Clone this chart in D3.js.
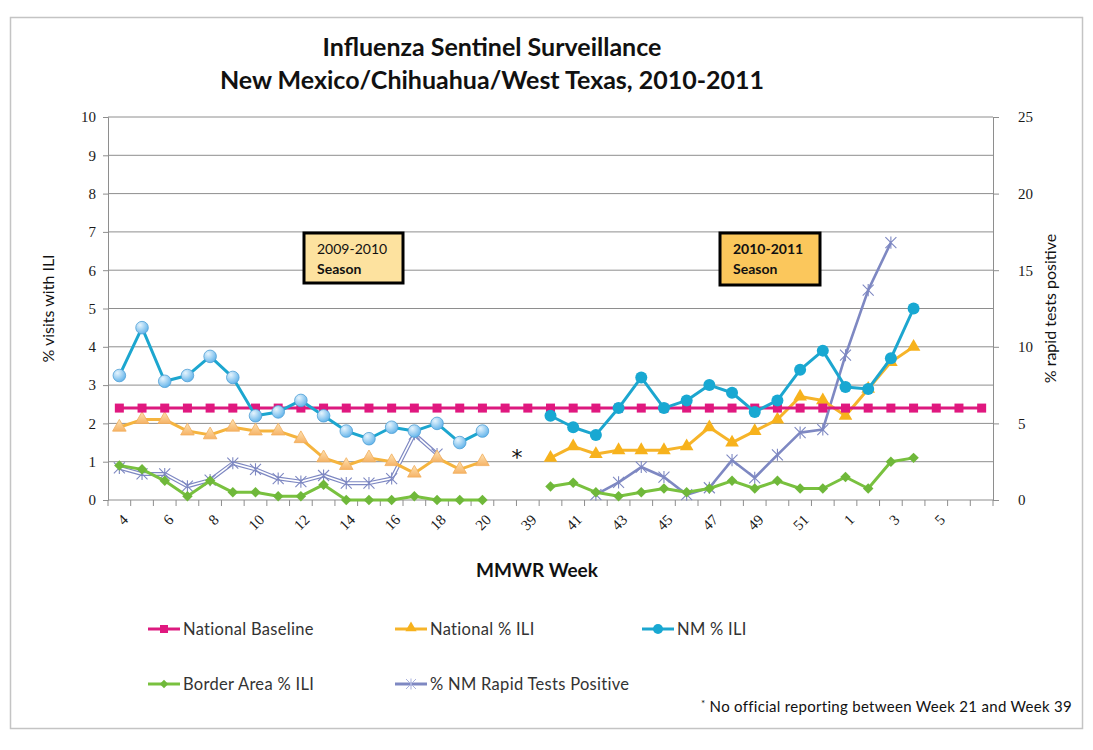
<!DOCTYPE html>
<html>
<head>
<meta charset="utf-8">
<script src="https://cdn.jsdelivr.net/npm/d3@7"></script>
<style>
  body { margin: 0; background: #fff; }
  svg { display: block; }
</style>
</head>
<body>
<div id="chart"></div>
<script>
// category labels, one per plotted week slot (every other one is shown)
const weeks = ["4","5","6","7","8","9","10","11","12","13","14","15","16","17","18","19","20",
  "21","39",
  "40","41","42","43","44","45","46","47","48","49","50","51","52",
  "1","2","3","4","5","6",""];

// first slot that belongs to the 2010-2011 season
const season2Start = 18;

const nationalBaseline = [2.4,2.4,2.4,2.4,2.4,2.4,2.4,2.4,2.4,2.4,2.4,2.4,2.4,2.4,2.4,2.4,2.4,
  2.4,2.4,
  2.4,2.4,2.4,2.4,2.4,2.4,2.4,2.4,2.4,2.4,2.4,2.4,2.4,
  2.4,2.4,2.4,2.4,2.4,2.4,2.4];

const nationalIli = [1.9,2.1,2.1,1.8,1.7,1.9,1.8,1.8,1.6,1.1,0.9,1.1,1.0,0.7,1.1,0.8,1.0,
  null,null,
  1.1,1.4,1.2,1.3,1.3,1.3,1.4,1.9,1.5,1.8,2.1,2.7,2.6,
  2.2,2.9,3.6,4.0,null,null,null];

const nmIli = [3.25,4.5,3.1,3.25,3.75,3.2,2.2,2.3,2.6,2.2,1.8,1.6,1.9,1.8,2.0,1.5,1.8,
  null,null,
  2.2,1.9,1.7,2.4,3.2,2.4,2.6,3.0,2.8,2.3,2.6,3.4,3.9,
  2.95,2.9,3.7,5.0,null,null,null];

const borderIli = [0.9,0.8,0.5,0.1,0.5,0.2,0.2,0.1,0.1,0.4,0,0,0,0.1,0,0,0,
  null,null,
  0.35,0.45,0.2,0.1,0.2,0.3,0.2,0.3,0.5,0.3,0.5,0.3,0.3,
  0.6,0.3,1.0,1.1,null,null,null];

// right axis (% rapid tests positive)
const rapidPositive = [2.1,1.7,1.7,0.9,1.3,2.4,2.0,1.4,1.2,1.6,1.1,1.1,1.4,4.3,3.0,null,null,
  null,null,
  null,null,0.35,1.15,2.15,1.5,0.35,0.8,2.6,1.45,2.95,4.4,4.6,
  9.45,13.7,16.8,null,null,null,null];

const leftTicks = [0,1,2,3,4,5,6,7,8,9,10];
const rightTicks = [0,5,10,15,20,25];

const W = 1093, H = 750;
const plot = { left: 108, right: 993, top: 117, bottom: 500 };

const svg = d3.select("#chart").append("svg")
  .attr("width", W)
  .attr("height", H)
  .style("font-family", "Lato, 'Open Sans', sans-serif");

// gradients for the older season's markers
const defs = svg.append("defs");
const gBlue = defs.append("radialGradient").attr("id", "gBlue").attr("cx", "35%").attr("cy", "30%").attr("r", "75%");
gBlue.append("stop").attr("offset", "0%").attr("stop-color", "#e6f4fd");
gBlue.append("stop").attr("offset", "100%").attr("stop-color", "#5fb2ea");
const gOrange = defs.append("linearGradient").attr("id", "gOrange").attr("x1", 0).attr("y1", 0).attr("x2", 0).attr("y2", 1);
gOrange.append("stop").attr("offset", "0%").attr("stop-color", "#fde2b4");
gOrange.append("stop").attr("offset", "100%").attr("stop-color", "#f6b366");

// outer frame
svg.append("rect")
  .attr("x", 10.5).attr("y", 17.5)
  .attr("width", 1072).attr("height", 711)
  .attr("fill", "none")
  .attr("stroke", "#c4c4c4")
  .attr("stroke-width", 1.5);

const x = d3.scaleBand()
  .domain(d3.range(weeks.length))
  .range([plot.left, plot.right])
  .padding(0);
const cx = i => x(i) + x.bandwidth() / 2;

const y = d3.scaleLinear().domain([0, 10]).range([plot.bottom, plot.top]);
const y2 = d3.scaleLinear().domain([0, 25]).range([plot.bottom, plot.top]);

const tickFont = "'Liberation Serif', 'DejaVu Serif', serif";

// gridlines
svg.append("g")
  .selectAll("line")
  .data(leftTicks.filter(d => d > 0))
  .join("line")
  .attr("x1", plot.left).attr("x2", plot.right)
  .attr("y1", d => y(d)).attr("y2", d => y(d))
  .attr("stroke", "#8e8e8e")
  .attr("stroke-width", 1);

// left axis
const yAxis = d3.axisLeft(y).tickValues(leftTicks).tickSize(5).tickPadding(7);
const gy = svg.append("g").attr("transform", `translate(${plot.left},0)`).call(yAxis);
gy.select(".domain").attr("stroke", "#8e8e8e");
gy.selectAll(".tick line").attr("stroke", "#8e8e8e");
gy.selectAll("text")
  .style("font-family", tickFont)
  .style("font-size", "15px")
  .attr("fill", "#1a1a1a");

// right axis
const yAxis2 = d3.axisRight(y2).tickValues(rightTicks).tickSize(6).tickPadding(19);
const gy2 = svg.append("g").attr("transform", `translate(${plot.right},0)`).call(yAxis2);
gy2.select(".domain").attr("stroke", "#8e8e8e");
gy2.selectAll(".tick line").attr("stroke", "#8e8e8e");
gy2.selectAll("text")
  .style("font-family", tickFont)
  .style("font-size", "15px")
  .attr("fill", "#1a1a1a");

// bottom axis: ticks sit on category boundaries, labels on every other category
const gx = svg.append("g").attr("transform", `translate(0,${plot.bottom})`);
gx.append("line")
  .attr("x1", plot.left).attr("x2", plot.right)
  .attr("stroke", "#8e8e8e");
gx.selectAll(".tk")
  .data(d3.range(weeks.length + 1))
  .join("line")
  .attr("class", "tk")
  .attr("x1", i => plot.left + i * x.bandwidth())
  .attr("x2", i => plot.left + i * x.bandwidth())
  .attr("y1", 0).attr("y2", 6)
  .attr("stroke", "#8e8e8e");
gx.selectAll(".lbl")
  .data(d3.range(weeks.length).filter(i => i % 2 === 0))
  .join("text")
  .attr("class", "lbl")
  .attr("transform", i => `translate(${cx(i) + 6},${17}) rotate(-45)`)
  .attr("text-anchor", "end")
  .attr("dy", "0.35em")
  .style("font-family", tickFont)
  .style("font-size", "15px")
  .attr("fill", "#1a1a1a")
  .text(i => weeks[i]);

// series helpers
const pts = (arr, from, to) => arr.map((v, i) => ({ i, v })).filter(d => d.i >= from && d.i < to);
const lineL = d3.line().defined(d => d.v != null).x(d => cx(d.i)).y(d => y(d.v));
const lineR = d3.line().defined(d => d.v != null).x(d => cx(d.i)).y(d => y2(d.v));

function drawLine(data, gen, color, width) {
  svg.append("path")
    .datum(data)
    .attr("d", gen)
    .attr("fill", "none")
    .attr("stroke", color)
    .attr("stroke-width", width)
    .attr("stroke-linejoin", "round");
}

function asterisk(sel, size, color, sw) {
  const s = size / 2;
  sel.append("path")
    .attr("d", `M${-s},${-s}L${s},${s}M${-s},${s}L${s},${-s}M0,${-s * 1.1}L0,${s * 1.1}`)
    .attr("stroke", color)
    .attr("stroke-width", sw)
    .attr("fill", "none");
}

const n = weeks.length;
const seasons = [[0, season2Start], [season2Start, n]];

// colours
const cBase = "#dc1a7f", cNat = "#f6b42a", cNm = "#1ca6cf", cBorder = "#79c13f", cRapid = "#7e88c2";

// % NM rapid tests positive
seasons.forEach(([a, b], k) => {
  const d = pts(rapidPositive, a, b);
  if (k === 0) {
    drawLine(d, lineR, cRapid, 4);
    drawLine(d, lineR, "#ffffff", 1.6);
  } else {
    drawLine(d, lineR, cRapid, 2.6);
  }
  const m = svg.append("g").selectAll("g")
    .data(d.filter(p => p.v != null))
    .join("g")
    .attr("transform", p => `translate(${cx(p.i)},${y2(p.v)})`);
  asterisk(m, 11, cRapid, 1.1);
});

// border area % ILI
seasons.forEach(([a, b]) => {
  const d = pts(borderIli, a, b);
  drawLine(d, lineL, cBorder, 3);
  svg.append("g").selectAll("path")
    .data(d.filter(p => p.v != null))
    .join("path")
    .attr("d", d3.symbol(d3.symbolDiamond2, 70))
    .attr("transform", p => `translate(${cx(p.i)},${y(p.v)})`)
    .attr("fill", "#6fb83a");
});

// national % ILI
seasons.forEach(([a, b], k) => {
  const d = pts(nationalIli, a, b);
  drawLine(d, lineL, k === 0 ? "#f5b43e" : cNat, 3);
  svg.append("g").selectAll("path")
    .data(d.filter(p => p.v != null))
    .join("path")
    .attr("d", d3.symbol(d3.symbolTriangle, 80))
    .attr("transform", p => `translate(${cx(p.i)},${y(p.v)})`)
    .attr("fill", k === 0 ? "url(#gOrange)" : "#f7b21c")
    .attr("stroke", k === 0 ? "#f1ad5a" : "none")
    .attr("stroke-width", 0.8);
});

// national baseline
drawLine(pts(nationalBaseline, 0, n), lineL, cBase, 3);
svg.append("g").selectAll("rect")
  .data(pts(nationalBaseline, 0, n))
  .join("rect")
  .attr("x", p => cx(p.i) - 4.5)
  .attr("y", p => y(p.v) - 4.5)
  .attr("width", 9).attr("height", 9)
  .attr("fill", "#e0187f");

// NM % ILI
seasons.forEach(([a, b], k) => {
  const d = pts(nmIli, a, b);
  drawLine(d, lineL, cNm, 3);
  svg.append("g").selectAll("circle")
    .data(d.filter(p => p.v != null))
    .join("circle")
    .attr("cx", p => cx(p.i))
    .attr("cy", p => y(p.v))
    .attr("r", k === 0 ? 6.3 : 6)
    .attr("fill", k === 0 ? "url(#gBlue)" : "#18a8d2")
    .attr("stroke", k === 0 ? "#4f9fd6" : "none")
    .attr("stroke-width", 0.8);
});

// gap marker
svg.append("text")
  .attr("x", 517).attr("y", 465)
  .attr("text-anchor", "middle")
  .style("font-family", "'DejaVu Sans', sans-serif")
  .style("font-size", "22px")
  .attr("fill", "#111")
  .text("*");

// season boxes
function seasonBox(bx, by, bw, bh, fill, l1, l2, w1) {
  svg.append("rect")
    .attr("x", bx).attr("y", by)
    .attr("width", bw).attr("height", bh)
    .attr("fill", fill)
    .attr("stroke", "#000")
    .attr("stroke-width", 3);
  svg.append("text")
    .attr("x", bx + 13).attr("y", by + 21)
    .style("font-size", "14px")
    .style("font-weight", w1)
    .attr("fill", "#111")
    .text(l1);
  svg.append("text")
    .attr("x", bx + 13).attr("y", by + 41)
    .style("font-size", "14px")
    .style("font-weight", 700)
    .attr("fill", "#111")
    .text(l2);
}
seasonBox(304, 233, 99, 50, "#fde29f", "2009-2010", "Season", 400);
seasonBox(720, 233, 100, 52, "#fbc75c", "2010-2011", "Season", 700);

// titles
svg.append("text")
  .attr("x", 492).attr("y", 56)
  .attr("text-anchor", "middle")
  .style("font-size", "25px")
  .style("font-weight", 700)
  .attr("fill", "#111")
  .text("Influenza Sentinel Surveillance");
svg.append("text")
  .attr("x", 492).attr("y", 89)
  .attr("text-anchor", "middle")
  .style("font-size", "25px")
  .style("font-weight", 700)
  .attr("fill", "#111")
  .text("New Mexico/Chihuahua/West Texas, 2010-2011");

svg.append("text")
  .attr("transform", `translate(54,${(plot.top + plot.bottom) / 2}) rotate(-90)`)
  .attr("text-anchor", "middle")
  .style("font-size", "16px")
  .attr("fill", "#111")
  .text("% visits with ILI");

svg.append("text")
  .attr("transform", `translate(1056,${(plot.top + plot.bottom) / 2}) rotate(-90)`)
  .attr("text-anchor", "middle")
  .style("font-size", "16px")
  .attr("fill", "#111")
  .text("%  rapid tests positive");

svg.append("text")
  .attr("x", 537).attr("y", 577)
  .attr("text-anchor", "middle")
  .style("font-size", "19px")
  .style("font-weight", 700)
  .attr("fill", "#111")
  .text("MMWR Week");

// legend
const legendItems = [
  { name: "National Baseline", color: cBase, mark: "square", lx: 148, ly: 629 },
  { name: "National % ILI", color: cNat, mark: "triangle", lx: 395, ly: 629 },
  { name: "NM % ILI", color: cNm, mark: "circle", lx: 642, ly: 629 },
  { name: "Border Area % ILI", color: cBorder, mark: "diamond", lx: 148, ly: 684 },
  { name: "% NM Rapid Tests Positive", color: cRapid, mark: "asterisk", lx: 395, ly: 684 }
];
const lg = svg.append("g").selectAll("g")
  .data(legendItems)
  .join("g")
  .attr("transform", d => `translate(${d.lx},${d.ly})`);
lg.append("line")
  .attr("x1", 0).attr("x2", 32)
  .attr("stroke", d => d.color)
  .attr("stroke-width", 3);
lg.each(function(d) {
  const g = d3.select(this);
  if (d.mark === "square") {
    g.append("rect").attr("x", 12).attr("y", -4).attr("width", 8).attr("height", 8).attr("fill", "#e0187f");
  } else if (d.mark === "triangle") {
    g.append("path").attr("d", d3.symbol(d3.symbolTriangle, 55)).attr("transform", "translate(16,-1)").attr("fill", "#f7b21c");
  } else if (d.mark === "circle") {
    g.append("circle").attr("cx", 16).attr("r", 5).attr("fill", "#18a8d2");
  } else if (d.mark === "diamond") {
    g.append("path").attr("d", d3.symbol(d3.symbolDiamond2, 45)).attr("transform", "translate(16,0)").attr("fill", "#6fb83a");
  } else {
    const a = g.append("g").attr("transform", "translate(16,0)");
    asterisk(a, 10, "#a9b1dc", 1);
  }
});
lg.append("text")
  .attr("x", 35)
  .attr("dy", "0.36em")
  .style("font-size", "16.5px")
  .style("letter-spacing", "0.3px")
  .attr("fill", "#333")
  .text(d => d.name);

// footnote
const fn = svg.append("text")
  .attr("x", 1072).attr("y", 712)
  .attr("text-anchor", "end")
  .style("font-size", "15px")
  .style("letter-spacing", "0.3px")
  .attr("fill", "#111");
fn.append("tspan").attr("dy", "-5").style("font-size", "10px").text("*");
fn.append("tspan").attr("dy", "5").text(" No official reporting between Week 21 and Week 39");
</script>
</body>
</html>
